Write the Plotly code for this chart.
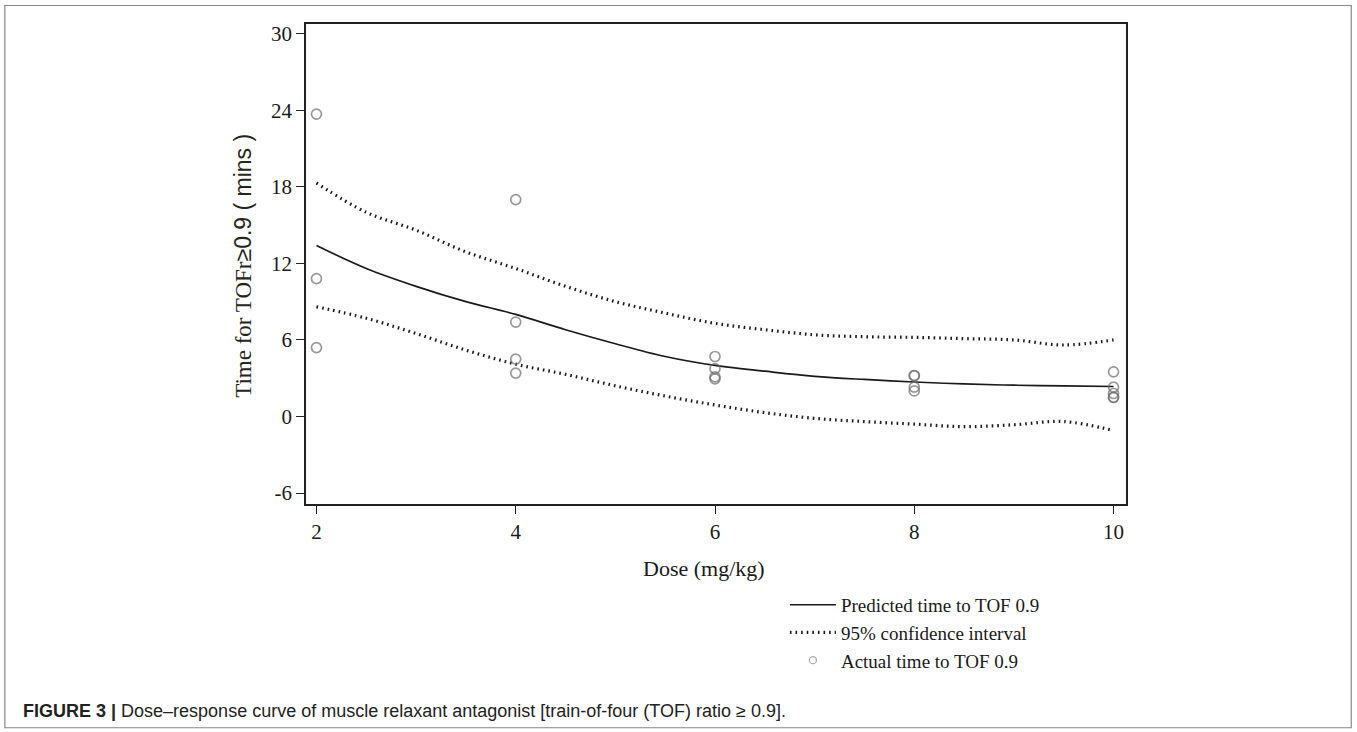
import plotly.graph_objects as go

# ---- data ----
dose_pts = [2, 2, 2, 4, 4, 4, 4, 6, 6, 6, 6, 8, 8, 8, 8, 10, 10, 10, 10, 10]
time_pts = [23.7, 10.8, 5.4, 17.0, 7.4, 4.5, 3.4, 4.7, 3.75, 3.1, 2.95,
            3.2, 3.2, 2.3, 2.0, 3.5, 2.3, 1.8, 1.5, 1.5]

curve_x = [2, 2.5, 3, 3.5, 4, 4.5, 5, 5.5, 6, 6.5, 7, 7.5, 8, 8.5, 9, 9.5, 10]
pred_y = [13.4, 11.6, 10.2, 9.0, 8.0, 6.8, 5.7, 4.7, 4.0, 3.55, 3.15, 2.9, 2.7, 2.55, 2.45, 2.4, 2.35]
upper_y = [18.3, 16.0, 14.6, 12.9, 11.6, 10.2, 9.0, 8.1, 7.3, 6.8, 6.4, 6.25, 6.2, 6.1, 6.0, 5.6, 6.0]
lower_y = [8.6, 7.7, 6.5, 5.2, 4.1, 3.3, 2.4, 1.6, 0.9, 0.3, -0.15, -0.4, -0.6, -0.8, -0.65, -0.4, -1.1]

x_ticks = [2, 4, 6, 8, 10]
y_ticks = [-6, 0, 6, 12, 18, 24, 30]

serif = "Liberation Serif, Times New Roman, serif"
sans = "Liberation Sans, Arial, sans-serif"
dotted = dict(color="#1a1a1a", width=3.2, dash="1.6px,4px", shape="spline")

fig = go.Figure()
fig.add_trace(go.Scatter(x=curve_x, y=pred_y, mode="lines",
                         line=dict(color="#1a1a1a", width=1.7, shape="spline"),
                         name="Predicted time to TOF 0.9"))
fig.add_trace(go.Scatter(x=curve_x, y=upper_y, mode="lines", line=dotted,
                         name="95% confidence interval", legendgroup="ci"))
fig.add_trace(go.Scatter(x=curve_x, y=lower_y, mode="lines", line=dotted,
                         name="95% confidence interval", legendgroup="ci", showlegend=False))
fig.add_trace(go.Scatter(x=dose_pts, y=time_pts, mode="markers",
                         marker=dict(symbol="circle-open", size=10, color="rgba(110,110,110,0.7)",
                                     line=dict(width=1.7)),
                         name="Actual time to TOF 0.9", legendgroup="pts", showlegend=False))
# legend entry with the small marker used by the reference legend
fig.add_trace(go.Scatter(x=[None], y=[None], mode="markers",
                         marker=dict(symbol="circle-open", size=7, color="#aaa", line=dict(width=1.3)),
                         name="Actual time to TOF 0.9", legendgroup="pts"))

W, H = 1357, 732
L, T, R, B = 305.5, 23.5, 1126.5, 504
pw, ph = R - L, B - T

def px(xp):
    return (xp - L) / pw

def py(yp):
    return (B - yp) / ph

axis_common = dict(showgrid=False, zeroline=False, showline=True, linecolor="#222", linewidth=1.8,
                   mirror=True, ticks="outside", ticklen=8, tickwidth=1.4, tickcolor="#222",
                   tickfont=dict(family=serif, size=21, color="#1a1a1a"))

fig.update_layout(
    width=W, height=H, autosize=False,
    margin=dict(l=L, r=W - R, t=T, b=H - B),
    paper_bgcolor="white", plot_bgcolor="white",
    xaxis=dict(range=[1.895, 10.125], tickvals=x_ticks, ticktext=[str(v) for v in x_ticks], **axis_common),
    yaxis=dict(range=[-6.86, 30.76], tickvals=y_ticks, ticktext=[str(v) for v in y_ticks], **axis_common),
    showlegend=True,
    legend=dict(x=px(785), y=py(586), xanchor="left", yanchor="top", bgcolor="rgba(0,0,0,0)",
                font=dict(family=serif, size=19, color="#1a1a1a"), tracegroupgap=0, itemwidth=46,
                itemsizing="trace"),
    annotations=[
        dict(text="Dose (mg/kg)", x=px(704), y=py(569), xref="paper", yref="paper", showarrow=False,
             xanchor="center", yanchor="middle",
             font=dict(family=serif, size=22, color="#1a1a1a")),
        dict(text="Time for TOFr<span style='font-family:Liberation Sans, Arial, sans-serif'>≥0.9 ( mins )</span>",
             x=px(243), y=py(266), xref="paper", yref="paper", showarrow=False, textangle=-90,
             xanchor="center", yanchor="middle",
             font=dict(family=serif, size=23, color="#26261a")),
        dict(text="<b>FIGURE 3 |</b> Dose–response curve of muscle relaxant antagonist [train-of-four (TOF) ratio ≥ 0.9].",
             x=px(20), y=py(711), xref="paper", yref="paper", xanchor="left", yanchor="middle", showarrow=False,
             font=dict(family=sans, size=18, color="#222")),
    ],
    shapes=[dict(type="rect", xref="paper", yref="paper", x0=px(4), x1=px(1352), y0=py(728), y1=py(5),
                 line=dict(color="#888", width=1.2), fillcolor="rgba(0,0,0,0)", layer="below")],
)

fig.write_html("out.html")
